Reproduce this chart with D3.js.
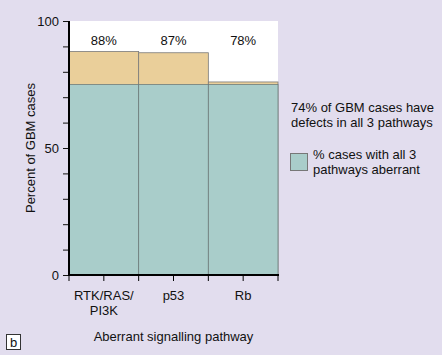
<!DOCTYPE html>
<html><head><meta charset="utf-8">
<script src="https://cdn.jsdelivr.net/npm/d3@7"></script>
<style>
html,body{margin:0;padding:0;background:#e2ddee;}
svg{display:block;font-family:"Liberation Sans",Arial,sans-serif;}
</style></head>
<body>
<svg id="chart" width="442" height="355"></svg>
<script>
const categories = ["RTK/RAS/PI3K", "p53", "Rb"];
const categoryLines = [["RTK/RAS/", "PI3K"], ["p53"], ["Rb"]];
const totalValues = [88, 87.5, 76];
const commonValues = [75, 75, 75];
const percentLabels = ["88%", "87%", "78%"];
const yTickValues = [0, 10, 20, 30, 40, 50, 60, 70, 80, 90, 100];
const yTickLabels = {0: "0", 50: "50", 100: "100"};

(function () {
const svg = d3.select("#chart");
const pL = 69, pR = 278, pT = 21, pB = 275;

const x = d3.scaleBand().domain(categories).range([pL, pR]).padding(0);
const y = d3.scaleLinear().domain([0, 100]).range([pB, pT]);

svg.append("rect").attr("x", pL).attr("y", pT)
  .attr("width", pR - pL).attr("height", pB - pT).attr("fill", "#ffffff");

svg.selectAll(".tot").data(categories).join("rect").attr("class", "tot")
  .attr("x", d => x(d)).attr("width", x.bandwidth())
  .attr("y", (d, i) => y(totalValues[i]))
  .attr("height", (d, i) => y(0) - y(totalValues[i]))
  .attr("fill", "#eacf9a").attr("stroke", "#7a7a7a").attr("stroke-width", 0.8);

svg.selectAll(".com").data(categories).join("rect").attr("class", "com")
  .attr("x", d => x(d)).attr("width", x.bandwidth())
  .attr("y", (d, i) => y(commonValues[i]))
  .attr("height", (d, i) => y(0) - y(commonValues[i]))
  .attr("fill", "#a9cdca").attr("stroke", "#6f7d7c").attr("stroke-width", 0.8);

svg.selectAll(".pl").data(categories).join("text").attr("class", "pl")
  .attr("x", d => x(d) + x.bandwidth() / 2).attr("y", 45)
  .attr("text-anchor", "middle").attr("font-size", 13).attr("fill", "#111")
  .text((d, i) => percentLabels[i]);

const yAxis = d3.axisLeft(y).tickValues(yTickValues).tickSize(6)
  .tickFormat(d => yTickLabels[d] || "");
const yg = svg.append("g").attr("transform", `translate(${pL},0)`).call(yAxis);
yg.select(".domain").remove();
yg.selectAll(".tick line").attr("stroke", "#111");
yg.selectAll("text").attr("font-size", 13).attr("fill", "#111").attr("x", -10)
  .style("font-family", "Liberation Sans, Arial, sans-serif");
svg.append("line").attr("x1", pL).attr("x2", pL).attr("y1", pT).attr("y2", pB + 1)
  .attr("stroke", "#000").attr("stroke-width", 2);

const xTickVals = [];
categories.forEach(c => { xTickVals.push(x(c)); xTickVals.push(x(c) + x.bandwidth() / 2); });
xTickVals.push(pR);
svg.selectAll(".xt").data(xTickVals).join("line").attr("class", "xt")
  .attr("x1", d => d).attr("x2", d => d).attr("y1", pB).attr("y2", pB + 6)
  .attr("stroke", "#000").attr("stroke-width", 1);
svg.append("line").attr("x1", pL - 1).attr("x2", pR + 1).attr("y1", pB).attr("y2", pB)
  .attr("stroke", "#000").attr("stroke-width", 2);

categories.forEach((c, i) => {
  const cx = x(c) + x.bandwidth() / 2;
  const t = svg.append("text").attr("x", cx).attr("y", 300)
    .attr("text-anchor", "middle").attr("font-size", 13).attr("fill", "#111");
  categoryLines[i].forEach((ln, j) => {
    t.append("tspan").attr("x", cx).attr("dy", j === 0 ? 0 : 14.5).text(ln);
  });
});

svg.append("text").attr("x", (pL + pR) / 2).attr("y", 341).attr("text-anchor", "middle")
  .attr("font-size", 13).attr("fill", "#111").text("Aberrant signalling pathway");
svg.append("text").attr("transform", `translate(35,${(pT + pB) / 2}) rotate(-90)`)
  .attr("text-anchor", "middle").attr("font-size", 13).attr("fill", "#111").text("Percent of GBM cases");

const ann = svg.append("text").attr("x", 291).attr("y", 112).attr("font-size", 13).attr("fill", "#111");
ann.append("tspan").attr("x", 291).attr("dy", 0).text("74% of GBM cases have");
ann.append("tspan").attr("x", 291).attr("dy", 14.5).text("defects in all 3 pathways");

svg.append("rect").attr("x", 290.5).attr("y", 153.5).attr("width", 17).attr("height", 17)
  .attr("fill", "#a9cdca").attr("stroke", "#777").attr("stroke-width", 1);
const lg = svg.append("text").attr("x", 313).attr("y", 159).attr("font-size", 13).attr("fill", "#111");
lg.append("tspan").attr("x", 313).attr("dy", 0).text("% cases with all 3");
lg.append("tspan").attr("x", 313).attr("dy", 15).text("pathways aberrant");

svg.append("rect").attr("x", 6.5).attr("y", 334.5).attr("width", 14).attr("height", 15)
  .attr("fill", "#fff").attr("stroke", "#333").attr("stroke-width", 1);
svg.append("text").attr("x", 13.5).attr("y", 347).attr("text-anchor", "middle")
  .attr("font-size", 13).attr("fill", "#111").text("b");
})();
</script>
</body></html>
